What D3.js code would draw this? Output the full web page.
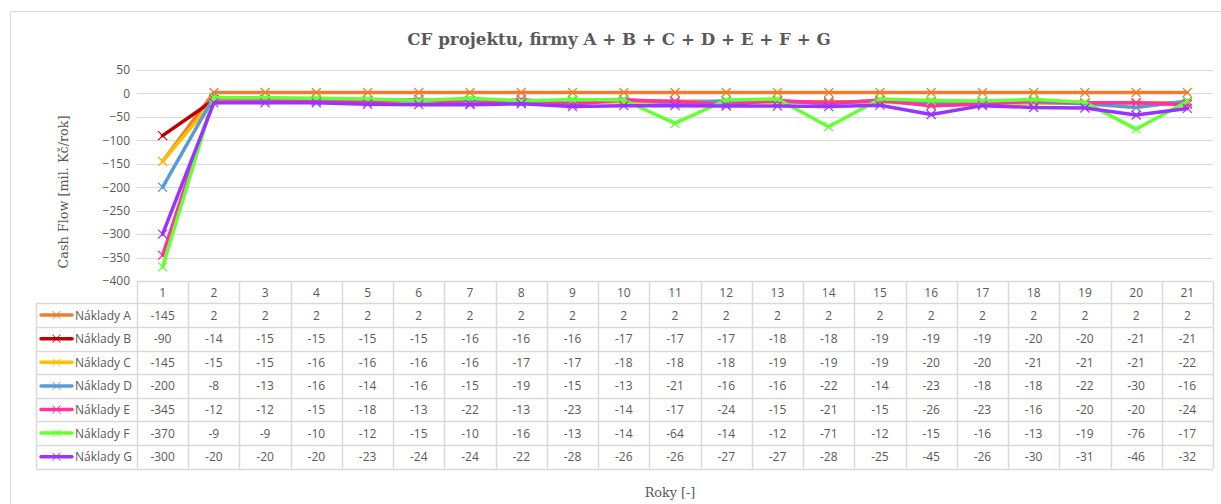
<!DOCTYPE html>
<html>
<head>
<meta charset="utf-8">
<script src="https://cdn.jsdelivr.net/npm/d3@7"></script>
<style>
  html, body { margin: 0; padding: 0; background: #fff; }
  svg { display: block; }
</style>
</head>
<body>
<svg id="chart" width="1221" height="504"></svg>
<script>
// ---- data ----
const categories = ["1","2","3","4","5","6","7","8","9","10","11","12","13","14","15","16","17","18","19","20","21"];
const seriesNames = ["Náklady A","Náklady B","Náklady C","Náklady D","Náklady E","Náklady F","Náklady G"];
const nakladyA = [-145, 2, 2, 2, 2, 2, 2, 2, 2, 2, 2, 2, 2, 2, 2, 2, 2, 2, 2, 2, 2];
const nakladyB = [-90, -14, -15, -15, -15, -15, -16, -16, -16, -17, -17, -17, -18, -18, -19, -19, -19, -20, -20, -21, -21];
const nakladyC = [-145, -15, -15, -16, -16, -16, -16, -17, -17, -18, -18, -18, -19, -19, -19, -20, -20, -21, -21, -21, -22];
const nakladyD = [-200, -8, -13, -16, -14, -16, -15, -19, -15, -13, -21, -16, -16, -22, -14, -23, -18, -18, -22, -30, -16];
const nakladyE = [-345, -12, -12, -15, -18, -13, -22, -13, -23, -14, -17, -24, -15, -21, -15, -26, -23, -16, -20, -20, -24];
const nakladyF = [-370, -9, -9, -10, -12, -15, -10, -16, -13, -14, -64, -14, -12, -71, -12, -15, -16, -13, -19, -76, -17];
const nakladyG = [-300, -20, -20, -20, -23, -24, -24, -22, -28, -26, -26, -27, -27, -28, -25, -45, -26, -30, -31, -46, -32];
const yTicks = [50, 0, -50, -100, -150, -200, -250, -300, -350, -400];
const chartTitle = "CF projektu, firmy A + B + C + D + E + F + G";
const yTitle = "Cash Flow [mil. Kč/rok]";
const xTitle = "Roky [-]";

const seriesValues = [nakladyA, nakladyB, nakladyC, nakladyD, nakladyE, nakladyF, nakladyG];
const colors = ["#ED7D31", "#C00000", "#FFC000", "#5B9BD5", "#FF3399", "#66FF33", "#9933FF"];

// ---- layout ----
const svg = d3.select("#chart");
const plotL = 137, plotR = 1213, plotT = 70, plotB = 281;
const tableL = 36, rowH = 23.6, headerH = 22.3;
const textColor = "#595959";
const gridColor = "#D9D9D9";
const sansFont = "'Open Sans', 'Liberation Sans', sans-serif";
const serifFont = "'DejaVu Serif', serif";

// outer chart border
svg.append("rect").attr("x", 10.5).attr("y", 11.5).attr("width", 1240).attr("height", 520)
  .attr("fill", "none").attr("stroke", gridColor).attr("stroke-width", 1);

const x = d3.scaleBand().domain(categories).range([plotL, plotR]);
const y = d3.scaleLinear().domain([-400, 50]).range([plotB, plotT]);

// gridlines
const gridG = svg.append("g");
gridG.selectAll("line").data(yTicks).join("line")
  .attr("x1", plotL).attr("x2", plotR)
  .attr("y1", d => Math.round(y(d)) + 0.5).attr("y2", d => Math.round(y(d)) + 0.5)
  .attr("stroke", gridColor).attr("stroke-width", 1);

// y axis labels
const yAxis = d3.axisLeft(y).tickValues(yTicks).tickSize(0).tickPadding(0);
const yAxisG = svg.append("g").attr("transform", `translate(${plotL - 7},0)`).call(yAxis);
yAxisG.select(".domain").remove();
yAxisG.selectAll("text").attr("fill", textColor).attr("font-family", sansFont).attr("font-size", "12px");

// title
svg.append("text").attr("x", 619).attr("y", 45).attr("text-anchor", "middle")
  .attr("font-family", serifFont).attr("font-weight", "bold").attr("font-size", "16.7px")
  .attr("fill", textColor).text(chartTitle);

// y title
svg.append("text").attr("transform", `translate(68,192) rotate(-90)`).attr("text-anchor", "middle")
  .attr("font-family", serifFont).attr("font-size", "12.8px").attr("fill", textColor).text(yTitle);

// x title
svg.append("text").attr("x", 670).attr("y", 497).attr("text-anchor", "middle")
  .attr("font-family", serifFont).attr("font-size", "12.8px").attr("fill", textColor).text(xTitle);

// ---- data table ----
const tableG = svg.append("g");
const tableTop = plotB;
const rowsTop = tableTop + headerH;
const tableBottom = rowsTop + rowH * seriesNames.length;
tableG.append("line").attr("x1", plotL).attr("x2", plotR).attr("y1", tableTop + 0.5).attr("y2", tableTop + 0.5)
  .attr("stroke", gridColor).attr("stroke-width", 1.5);
for (let i = 0; i <= seriesNames.length; i++) {
  const yy = Math.round(rowsTop + rowH * i) + 0.5;
  tableG.append("line").attr("x1", tableL).attr("x2", plotR).attr("y1", yy).attr("y2", yy)
    .attr("stroke", gridColor).attr("stroke-width", 1.5);
}
const bounds = categories.map(c => x(c)).concat([plotR]);
bounds.forEach(bx => {
  tableG.append("line").attr("x1", Math.round(bx) + 0.5).attr("x2", Math.round(bx) + 0.5)
    .attr("y1", tableTop).attr("y2", tableBottom).attr("stroke", gridColor).attr("stroke-width", 1.5);
});
tableG.append("line").attr("x1", tableL + 0.5).attr("x2", tableL + 0.5)
  .attr("y1", rowsTop).attr("y2", tableBottom).attr("stroke", gridColor).attr("stroke-width", 1.5);

// header
tableG.selectAll("text.hdr").data(categories).join("text").attr("class", "hdr")
  .attr("x", d => x(d) + x.bandwidth() / 2).attr("y", tableTop + headerH / 2 + 4.5)
  .attr("text-anchor", "middle").attr("font-family", sansFont).attr("font-size", "12px")
  .attr("fill", textColor).text(d => d);

// rows
seriesNames.forEach((name, i) => {
  const cy = rowsTop + rowH * i + rowH / 2;
  tableG.append("line").attr("x1", 41).attr("x2", 72).attr("y1", cy).attr("y2", cy)
    .attr("stroke", colors[i]).attr("stroke-width", 3.5).attr("stroke-linecap", "round");
  tableG.append("path").attr("d", `M${56.5 - 4},${cy - 4}L${56.5 + 4},${cy + 4}M${56.5 - 4},${cy + 4}L${56.5 + 4},${cy - 4}`)
    .attr("stroke", colors[i]).attr("stroke-width", 1).attr("fill", "none");
  tableG.append("text").attr("x", 75).attr("y", cy + 4.5).attr("font-family", sansFont)
    .attr("font-size", "12px").attr("fill", textColor).text(name);
  tableG.selectAll(null).data(seriesValues[i]).join("text")
    .attr("x", (d, j) => x(categories[j]) + x.bandwidth() / 2).attr("y", cy + 4.5)
    .attr("text-anchor", "middle").attr("font-family", sansFont).attr("font-size", "12px")
    .attr("fill", textColor).text(d => d);
});

// ---- lines ----
const line = d3.line().x((d, j) => x(categories[j]) + x.bandwidth() / 2).y(d => y(d));
seriesValues.forEach((vals, i) => {
  const g = svg.append("g");
  g.append("path").datum(vals).attr("d", line).attr("fill", "none")
    .attr("stroke", colors[i]).attr("stroke-width", 3.5).attr("stroke-linejoin", "round").attr("stroke-linecap", "round");
  g.selectAll("path.mk").data(vals).join("path").attr("class", "mk")
    .attr("d", (d, j) => {
      const px = x(categories[j]) + x.bandwidth() / 2, py = y(d), s = 4.5;
      return `M${px - s},${py - s}L${px + s},${py + s}M${px - s},${py + s}L${px + s},${py - s}`;
    })
    .attr("stroke", colors[i]).attr("stroke-width", 1.2).attr("fill", "none");
});
</script>
</body>
</html>
